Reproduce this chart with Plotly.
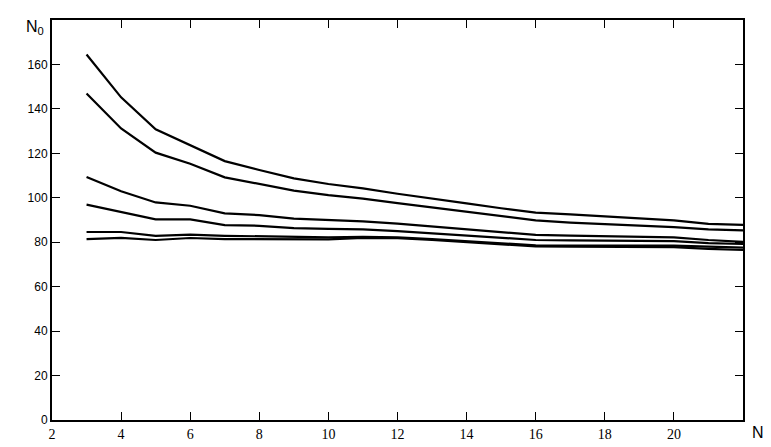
import plotly.graph_objects as go

N = [3, 4, 5, 6, 7, 8, 9, 10, 11, 12, 13, 14, 15, 16, 17, 18, 19, 20, 21, 22]

curve1 = [164.5, 145.2, 130.8, 123.5, 116.5, 112.5, 108.7, 106.2, 104.2, 101.8,
          99.5, 97.5, 95.3, 93.3, 92.5, 91.6, 90.7, 89.8, 88.3, 87.8]
curve2 = [146.9, 131.2, 120.3, 115.3, 109.2, 106.2, 103.2, 101.2, 99.6, 97.6,
          95.6, 93.6, 91.6, 89.8, 88.8, 88.2, 87.5, 86.8, 85.8, 85.3]
curve3 = [109.4, 102.9, 97.9, 96.4, 93.0, 92.2, 90.6, 90.0, 89.4, 88.4,
          87.2, 86.0, 84.7, 83.3, 83.0, 82.8, 82.5, 82.2, 81.0, 80.2]
curve4 = [96.9, 93.7, 90.3, 90.3, 87.7, 87.4, 86.3, 86.0, 85.8, 85.0,
          84.0, 83.2, 82.0, 81.0, 80.8, 80.7, 80.6, 80.5, 79.6, 79.2]
curve5 = [84.6, 84.6, 82.9, 83.4, 82.9, 82.6, 82.4, 82.2, 82.4, 82.2,
          81.4, 80.4, 79.5, 78.6, 78.5, 78.5, 78.5, 78.5, 78.0, 77.6]
curve6 = [81.4, 82.0, 81.0, 81.9, 81.4, 81.3, 81.2, 81.3, 82.0, 81.8,
          81.0, 80.0, 79.0, 78.1, 78.0, 78.0, 78.0, 77.8, 77.0, 76.5]

x_tick_vals = [2, 4, 6, 8, 10, 12, 14, 16, 18, 20]
x_tick_text = ["2", "4", "6", "8", "10", "12", "14", "16", "18", "20"]
y_tick_vals = [0, 20, 40, 60, 80, 100, 120, 140, 160]
y_tick_text = ["0", "20", "40", "60", "80", "100", "120", "140", "160"]

fig = go.Figure()
for c in [curve1, curve2, curve3, curve4, curve5, curve6]:
    fig.add_trace(go.Scatter(x=N, y=c, mode="lines",
                             line=dict(color="black", width=2.2),
                             showlegend=False, hoverinfo="skip"))

fig.update_layout(
    width=771, height=447,
    margin=dict(l=52, r=28, t=20, b=27, autoexpand=False),
    paper_bgcolor="white", plot_bgcolor="white",
    xaxis=dict(range=[2, 22], tickvals=x_tick_vals, ticktext=x_tick_text,
               automargin=False,
               showgrid=False, zeroline=False, showline=True, linecolor="black",
               linewidth=2, mirror="ticks", ticks="inside", ticklen=8,
               tickwidth=1, tickcolor="black",
               tickfont=dict(family="Liberation Serif", size=14, color="black")),
    yaxis=dict(range=[0, 180], tickvals=y_tick_vals, ticktext=y_tick_text,
               automargin=False,
               showgrid=False, zeroline=False, showline=True, linecolor="black",
               linewidth=2, mirror="ticks", ticks="inside", ticklen=8,
               tickwidth=1, tickcolor="black",
               tickfont=dict(family="Liberation Sans", size=12, color="black")),
    annotations=[
        dict(text="N<sub>0</sub>", xref="paper", yref="paper", x=-0.025, y=0.982,
             xanchor="center", yanchor="middle", showarrow=False,
             font=dict(family="Liberation Sans", size=16, color="black")),
        dict(text="N", xref="paper", yref="paper", x=1.022, y=-0.03,
             xanchor="center", yanchor="middle", showarrow=False,
             font=dict(family="Liberation Sans", size=16, color="black")),
    ],
)

fig.write_html("out.html",
               config={"displayModeBar": False},
               post_script="document.body.style.margin='0';document.body.style.padding='0';")
